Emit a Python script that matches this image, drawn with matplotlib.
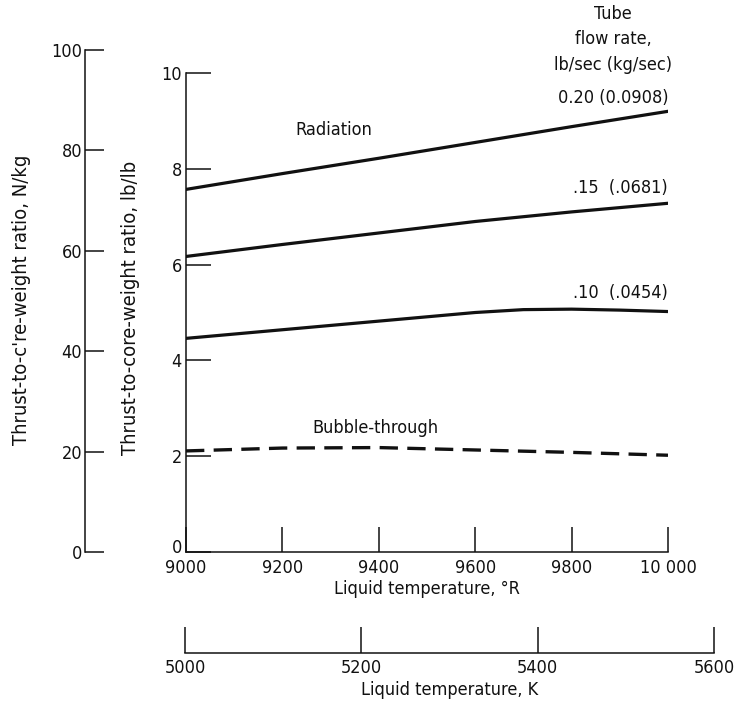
import matplotlib
matplotlib.use('Agg')
import matplotlib.pyplot as plt
from matplotlib import font_manager
from matplotlib.transforms import ScaledTranslation

# pick a narrow font if there is one, the scan uses a condensed face
names = set(f.name for f in font_manager.fontManager.ttflist)
if 'Liberation Sans Narrow' in names:
    plt.rcParams['font.family'] = ['Liberation Sans Narrow', 'DejaVu Sans']
else:
    plt.rcParams['font.family'] = ['DejaVu Sans']
    plt.rcParams['font.stretch'] = 'condensed'

# Data (liquid temperature in deg R, ratio in lb/lb)
temp_R = [9000, 9200, 9400, 9600, 9800, 10000]
rad_020 = [7.57, 7.90, 8.22, 8.55, 8.88, 9.20]
rad_015 = [6.17, 6.42, 6.66, 6.90, 7.10, 7.28]
temp_R_010 = [9000, 9200, 9400, 9600, 9700, 9800, 9900, 10000]
rad_010 = [4.46, 4.64, 4.82, 5.00, 5.06, 5.07, 5.05, 5.02]
bubble = [2.11, 2.17, 2.18, 2.13, 2.08, 2.02]

x_ticks_R = [9000, 9200, 9400, 9600, 9800, 10000]
x_labels_R = ['9000', '9200', '9400', '9600', '9800', '10 000']
y_ticks = [0, 2, 4, 6, 8, 10]
y_ticks_si = [0, 20, 40, 60, 80, 100]
x_ticks_K = [5000, 5200, 5400, 5600]

flow_labels = ['0.20 (0.0908)', '.15  (.0681)', '.10  (.0454)']

W, H = 734, 707
fig = plt.figure(figsize=(W / 100, H / 100), dpi=100)

def box(x0, y0, x1, y1):
    # pixel box (top-left origin) -> figure fraction rect
    return [x0 / W, 1 - y1 / H, (x1 - x0) / W, (y1 - y0) / H]

ink = '#111111'
fs = 13

# main axes
ax = fig.add_axes(box(186, 73, 668, 552))
ax.plot(temp_R, rad_020, color=ink, lw=2.3)
ax.plot(temp_R, rad_015, color=ink, lw=2.3)
ax.plot(temp_R_010, rad_010, color=ink, lw=2.3)
ax.plot(temp_R, bubble, color=ink, lw=2.4, dashes=(5.5, 2.8))
ax.set_xlim(9000, 10000)
ax.set_ylim(0, 10)
ax.set_xticks(x_ticks_R)
ax.set_xticklabels(x_labels_R)
ax.set_yticks(y_ticks)
for s in ['top', 'right']:
    ax.spines[s].set_visible(False)
for s in ['left', 'bottom']:
    ax.spines[s].set_linewidth(1.1)
    ax.spines[s].set_color(ink)
ax.tick_params(axis='both', direction='in', length=18, width=1.1, color=ink,
               labelsize=fs, labelcolor=ink)
ax.tick_params(axis='y', pad=3)
ax.tick_params(axis='x', pad=5)
ax.set_xlabel('Liquid temperature, °R', fontsize=fs, color=ink, labelpad=2)
ax.patch.set_alpha(0)

# lift the "0" a little so it clears the 9000 label, as in the scan
zero = ax.get_yticklabels()[0]
zero.set_transform(zero.get_transform() + ScaledTranslation(0, 0.06, fig.dpi_scale_trans))

# curve labels
ax.text(9307, 8.81, 'Radiation', fontsize=fs, ha='center', va='center', color=ink)
ax.text(10000, 9.48, flow_labels[0], fontsize=fs, ha='right', va='center', color=ink)
ax.text(10000, 7.6, flow_labels[1], fontsize=fs, ha='right', va='center', color=ink)
ax.text(10000, 5.41, flow_labels[2], fontsize=fs, ha='right', va='center', color=ink)
ax.text(9392, 2.59, 'Bubble-through', fontsize=fs, ha='center', va='center', color=ink)
ax.text(9886, 10.7, 'Tube\nflow rate,\nlb/sec (kg/sec)', fontsize=fs, ha='center',
        va='center', color=ink, linespacing=1.55, clip_on=False)

# left axis in N/kg
ax_si = fig.add_axes(box(85, 50, 95, 552))
ax_si.set_ylim(0, 100)
ax_si.set_yticks(y_ticks_si)
ax_si.set_xticks([])
for s in ['top', 'right', 'bottom']:
    ax_si.spines[s].set_visible(False)
ax_si.spines['left'].set_linewidth(1.1)
ax_si.spines['left'].set_color(ink)
ax_si.tick_params(axis='y', direction='in', length=14, width=1.1, color=ink,
                  labelsize=fs, labelcolor=ink, pad=2)
ax_si.patch.set_alpha(0)

# bottom axis in K
ax_k = fig.add_axes(box(185, 640, 714, 653))
ax_k.set_xlim(5000, 5600)
ax_k.set_xticks(x_ticks_K)
ax_k.set_yticks([])
for s in ['top', 'right', 'left']:
    ax_k.spines[s].set_visible(False)
ax_k.spines['bottom'].set_linewidth(1.1)
ax_k.spines['bottom'].set_color(ink)
ax_k.tick_params(axis='x', direction='in', length=19, width=1.1, color=ink,
                 labelsize=fs, labelcolor=ink, pad=4)
ax_k.set_xlabel('Liquid temperature, K', fontsize=fs, color=ink, labelpad=3)
ax_k.patch.set_alpha(0)

# y axis titles
fig.text(22 / W, 1 - 300 / H, "Thrust-to-c're-weight ratio, N/kg", rotation=90,
         fontsize=14.5, ha='center', va='center', color=ink)
fig.text(130 / W, 1 - 308 / H, 'Thrust-to-core-weight ratio, lb/lb', rotation=90,
         fontsize=14.5, ha='center', va='center', color=ink)

fig.savefig('out.png', dpi=100)
